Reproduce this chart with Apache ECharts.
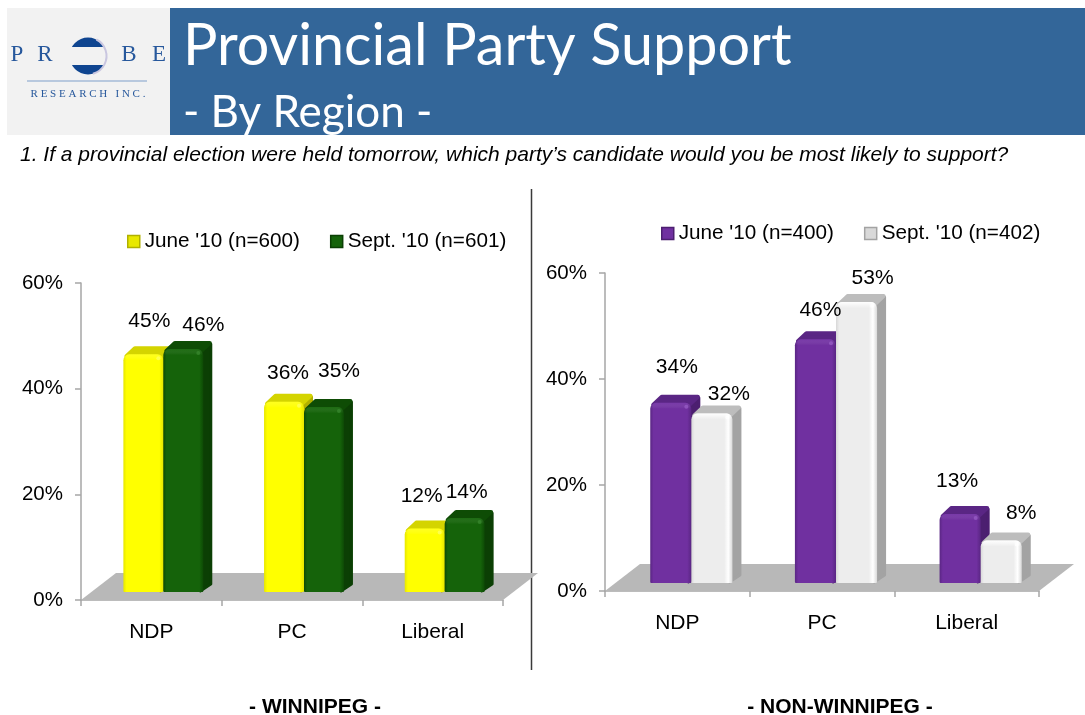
<!DOCTYPE html>
<html>
<head>
<meta charset="utf-8">
<title>Provincial Party Support</title>
<script src="https://cdn.jsdelivr.net/npm/echarts@6/dist/echarts.min.js"></script>
<style>
  html, body { margin: 0; padding: 0; background: #fff; }
  #main { width: 1085px; height: 715px; }
</style>
</head>
<body>
<div id="main"></div>
<script>
var categories = ['NDP', 'PC', 'Liberal'];
var winnipegJune = [45, 36, 12];
var winnipegSept = [46, 35, 14];
var outsideJune = [34, 46, 13];
var outsideSept = [32, 53, 8];
var winnipegLegend = ["June '10 (n=600)", "Sept. '10 (n=601)"];
var outsideLegend = ["June '10 (n=400)", "Sept. '10 (n=402)"];
var valueTicks = [0, 20, 40, 60];

// hand placed label nudges, the original slide has them dragged around
var labelNudge = {
  winnipegJune: [[6, -33], [4, -29], [-3, -32]],
  winnipegSept: [[20, -24], [15, -36], [2, -26]],
  outsideJune: [[6, -36], [5, -29], [-3, -33]],
  outsideSept: [[17, -19], [16, -24], [20, -27]]
};

var FONT = '"Liberation Sans", Arial, sans-serif';
var yellow = { edge: '#e6e600', mid: '#ffff00', rim: '#ffff00', top: '#d4d400', side: '#b0b000', icon: '#e8e800', glow: 'rgba(255,255,150,0.2)', glint: '#ffff66' };
var green = { edge: '#0d4a05', mid: '#15630a', rim: '#15630a', top: '#0e4c05', side: '#0b3f04', icon: '#15630a', glow: 'rgba(60,140,50,0.2)', glint: '#3a8a30' };
var purple = { edge: '#5a2684', mid: '#7030a0', rim: '#7030a0', top: '#5a2684', side: '#4c1f70', icon: '#7030a0', glow: 'rgba(150,90,200,0.2)', glint: '#9a60c8' };
var white = { edge: '#d8d8d8', mid: '#ededed', rim: '#ffffff', top: '#bdbdbd', side: '#a3a3a3', icon: '#d9d9d9', glow: 'rgba(255,255,255,0.95)', glint: '#ffffff' };

function barSeries(name, values, nudges, colors, side, gridIndex, shift) {
  return {
    type: 'custom',
    name: name,
    xAxisIndex: gridIndex,
    yAxisIndex: gridIndex,
    clip: false,
    itemStyle: { color: colors.icon },
    encode: { x: 0, y: 1 },
    data: values.map(function (v, i) { return [i, v]; }),
    renderItem: function (params, api) {
      var i = api.value(0);
      var val = api.value(1);
      var band = api.size([1, 0])[0];
      var w = band * 0.284;
      var lift = 8, dx = 9.5, dy = 8;
      var top = api.coord([i, val]);
      var base = api.coord([i, 0]);
      var left = top[0] + shift + (side < 0 ? -w : 0);
      var yTop = top[1] - lift;
      var yBase = base[1] - lift;
      var order = side < 0 ? 0 : 10;
      var nudge = nudges[i];
      return {
        type: 'group',
        children: [
          {
            type: 'polygon',
            z2: order + 1,
            shape: { points: [[left + w - 3, yTop + 2], [left + w + dx - 2, yTop - dy + 3], [left + w + dx - 2, yBase - dy], [left + w - 3, yBase - 1]] },
            style: { fill: colors.side, stroke: colors.side, lineWidth: 3, lineJoin: 'round' }
          },
          {
            type: 'polygon',
            z2: order + 2,
            shape: { points: [[left + 3, yTop + 2], [left + dx + 2, yTop - dy + 2], [left + w + dx - 3, yTop - dy + 2], [left + w - 2, yTop + 2]] },
            style: { fill: colors.top, stroke: colors.top, lineWidth: 4, lineJoin: 'round' }
          },
          {
            type: 'rect',
            z2: order + 3,
            shape: { x: left, y: yTop, width: w, height: yBase - yTop, r: [6, 6, 1, 1] },
            style: {
              fill: new echarts.graphic.LinearGradient(0, 0, 1, 0, [
                { offset: 0, color: colors.edge },
                { offset: 0.08, color: colors.mid },
                { offset: 0.8, color: colors.mid },
                { offset: 0.9, color: colors.rim },
                { offset: 1, color: colors.edge }
              ])
            }
          },
          {
            type: 'rect',
            z2: order + 4,
            shape: { x: left + 1, y: yTop, width: w - 2, height: 6, r: [5, 5, 0, 0] },
            style: {
              fill: new echarts.graphic.LinearGradient(0, 0, 0, 1, [
                { offset: 0, color: colors.glow },
                { offset: 1, color: 'rgba(255,255,255,0)' }
              ])
            }
          },
          {
            type: 'circle',
            z2: order + 5,
            shape: { cx: left + w - 5, cy: yTop + 4, r: 2 },
            style: { fill: colors.glint, opacity: 0.7 }
          },
          {
            type: 'text',
            z2: 100,
            style: {
              text: val + '%',
              x: left + w / 2 + nudge[0],
              y: yTop + nudge[1],
              fill: '#000',
              font: '21px ' + FONT,
              align: 'center',
              verticalAlign: 'middle'
            }
          }
        ]
      };
    }
  };
}

function floorSeries(gridIndex) {
  return {
    type: 'custom',
    name: 'floor' + gridIndex,
    xAxisIndex: gridIndex,
    yAxisIndex: gridIndex,
    clip: false,
    silent: true,
    z: 1,
    data: [[0, 0]],
    encode: { x: 0, y: 1 },
    renderItem: function (params, api) {
      var g = params.coordSys;
      var by = g.y + g.height;
      return {
        type: 'polygon',
        shape: { points: [[g.x, by], [g.x + 35, by - 27], [g.x + g.width + 35, by - 27], [g.x + g.width, by]] },
        style: { fill: '#b8b8b8' }
      };
    }
  };
}

function catAxis(gridIndex) {
  return {
    type: 'category',
    gridIndex: gridIndex,
    data: categories,
    axisLine: { show: true, lineStyle: { color: '#a6a6a6', width: 1.5 } },
    axisTick: { show: true, alignWithLabel: false, length: 6, lineStyle: { color: '#a6a6a6', width: 1.5 } },
    axisLabel: { color: '#000', fontFamily: FONT, fontSize: 21, margin: 22, interval: 0 }
  };
}

function valAxis(gridIndex) {
  return {
    type: 'value',
    gridIndex: gridIndex,
    min: valueTicks[0],
    max: valueTicks[valueTicks.length - 1],
    interval: valueTicks[1],
    splitLine: { show: false },
    axisLine: { show: true, lineStyle: { color: '#a6a6a6', width: 1.5 } },
    axisTick: { show: true, length: 6, lineStyle: { color: '#a6a6a6', width: 1.5 } },
    axisLabel: { color: '#000', fontFamily: FONT, fontSize: 20.5, margin: 18, formatter: '{value}%' }
  };
}

function legendFor(names, left, top, gridColors) {
  return {
    left: left,
    top: top,
    padding: 0,
    itemWidth: 12,
    itemHeight: 12,
    itemGap: 30,
    icon: 'rect',
    selectedMode: false,
    textStyle: { color: '#000', fontFamily: FONT, fontSize: 20.7 },
    data: names.map(function (n, i) {
      return { name: n, itemStyle: { color: gridColors[i].icon, borderColor: gridColors[i].side, borderWidth: 1.5 } };
    })
  };
}

function headerGraphics() {
  var blue = '#336699';
  var logoBlue = '#27589c';
  function logoText(s, x, y, size) {
    return { type: 'text', style: { text: s, x: x, y: y, fill: logoBlue, font: size + 'px "Liberation Serif", serif', align: 'center', verticalAlign: 'middle' } };
  }
  return [
    { type: 'rect', shape: { x: 7, y: 8, width: 163, height: 127 }, style: { fill: '#f2f2f2' } },
    { type: 'rect', shape: { x: 170, y: 8, width: 915, height: 127 }, style: { fill: blue } },
    logoText('P', 17, 55, 23),
    logoText('R', 45, 55, 23),
    logoText('B', 129, 55, 23),
    logoText('E', 159, 55, 23),
    { type: 'circle', shape: { cx: 88, cy: 56, r: 18.5 }, style: { fill: '#0f4590' } },
    { type: 'rect', shape: { x: 68, y: 47, width: 40, height: 18 }, style: { fill: '#f2f2f2' } },
    { type: 'arc', shape: { cx: 88, cy: 56, r: 18.5, startAngle: -1.1, endAngle: 1.3 }, style: { stroke: '#c9c6e0', lineWidth: 2, fill: 'none' } },
    { type: 'line', shape: { x1: 27, y1: 81, x2: 147, y2: 81 }, style: { stroke: '#7e9fca', lineWidth: 1 } },
    logoText('R E S E A R C H   I N C .', 88, 94, 11),
    { type: 'text', style: { text: 'Provincial Party Support', x: 183, y: 46, fill: '#fff', font: '57.5px Lato, sans-serif', verticalAlign: 'middle' } },
    { type: 'text', style: { text: '- By Region -', x: 183, y: 113, fill: '#fff', font: '44px Lato, sans-serif', verticalAlign: 'middle' } },
    { type: 'text', style: { text: '1. If a provincial election were held tomorrow, which party\u2019s candidate would you be most likely to support?', x: 20, y: 155, fill: '#000', font: 'italic 21px ' + FONT, verticalAlign: 'middle' } },
    { type: 'line', shape: { x1: 531.5, y1: 189, x2: 531.5, y2: 670 }, style: { stroke: '#3a3a3a', lineWidth: 1.5 } },
    { type: 'text', style: { text: '- WINNIPEG -', x: 315, y: 707, fill: '#000', font: 'bold 21px ' + FONT, align: 'center', verticalAlign: 'middle' } },
    { type: 'text', style: { text: '- NON-WINNIPEG -', x: 840, y: 707, fill: '#000', font: 'bold 21px ' + FONT, align: 'center', verticalAlign: 'middle' } }
  ];
}

var myChart = echarts.init(document.getElementById('main'), null, { renderer: 'canvas' });
var option = {
  animation: false,
  backgroundColor: '#ffffff',
  tooltip: { show: false },
  legend: [
    legendFor(winnipegLegend, 127, 231, [yellow, green]),
    legendFor(outsideLegend, 661, 223, [purple, white])
  ],
  grid: [
    { left: 81, top: 283, width: 422, height: 317 },
    { left: 605, top: 273, width: 434, height: 318 }
  ],
  xAxis: [catAxis(0), catAxis(1)],
  yAxis: [valAxis(0), valAxis(1)],
  graphic: headerGraphics(),
  series: [
    floorSeries(0),
    floorSeries(1),
    barSeries(winnipegLegend[0], winnipegJune, labelNudge.winnipegJune, yellow, -1, 0, 12),
    barSeries(winnipegLegend[1], winnipegSept, labelNudge.winnipegSept, green, 1, 0, 12),
    barSeries(outsideLegend[0], outsideJune, labelNudge.outsideJune, purple, -1, 1, 14),
    barSeries(outsideLegend[1], outsideSept, labelNudge.outsideSept, white, 1, 1, 14)
  ]
};
myChart.setOption(option);
window.onresize = myChart.resize;
</script>
</body>
</html>
